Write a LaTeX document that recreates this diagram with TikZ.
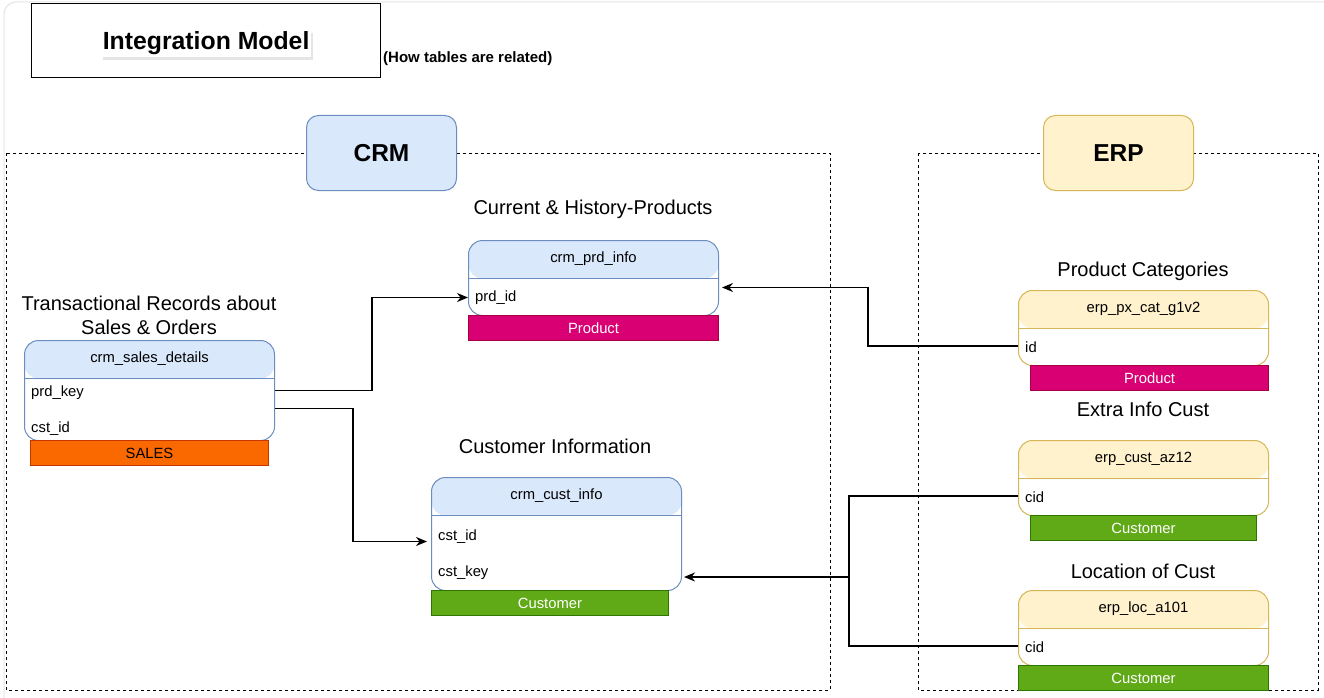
\documentclass[tikz,border=0pt]{standalone}
\usepackage{fontspec}
\setmainfont{Liberation Sans}
\usepackage{tikz}
\usetikzlibrary{calc, positioning, arrows.meta, shadows}
\definecolor{crmFill}{HTML}{DAE8FC}
\definecolor{crmEdge}{HTML}{6C8EBF}
\definecolor{erpFill}{HTML}{FFF2CC}
\definecolor{erpEdge}{HTML}{D6B656}
\definecolor{prodFill}{HTML}{D80073}
\definecolor{prodEdge}{HTML}{A50040}
\definecolor{salesFill}{HTML}{FA6800}
\definecolor{salesEdge}{HTML}{C73500}
\definecolor{custFill}{HTML}{60A917}
\definecolor{custEdge}{HTML}{2D7600}
\tikzset{
    crmTable/.style={
        rectangle, draw=crmEdge, line width=1pt, fill=white, rounded corners=14pt,
        minimum width=250pt, anchor=north west, inner sep=0pt,
        path picture={
            \fill[crmFill] (path picture bounding box.north west) rectangle ([yshift=-38pt]path picture bounding box.north east);
            \draw[crmEdge, line width=1pt] ([yshift=-38pt]path picture bounding box.north west) -- ([yshift=-38pt]path picture bounding box.north east);
        }
    },
    erpTable/.style={
        rectangle, draw=erpEdge, line width=1pt, fill=white, rounded corners=14pt,
        minimum width=250pt, anchor=north west, inner sep=0pt,
        path picture={
            \fill[erpFill] (path picture bounding box.north west) rectangle ([yshift=-38pt]path picture bounding box.north east);
            \draw[erpEdge, line width=1pt] ([yshift=-38pt]path picture bounding box.north west) -- ([yshift=-38pt]path picture bounding box.north east);
        }
    },
    tableName/.style={font=\fontsize{14.8}{17}\selectfont, inner sep=0pt},
    field/.style={font=\fontsize{14.8}{17}\selectfont, anchor=west, inner sep=0pt, yshift=-1.5pt},
    tag/.style={rectangle, line width=1pt, minimum height=25pt, anchor=north west, inner sep=0pt, font=\fontsize{14.8}{17}\selectfont},
    productTag/.style={tag, draw=prodEdge, fill=prodFill, text=white},
    salesTag/.style={tag, draw=salesEdge, fill=salesFill, text=black},
    customerTag/.style={tag, draw=custEdge, fill=custFill, text=white},
    caption/.style={font=\fontsize{20}{24}\selectfont, align=center, inner sep=0pt},
    area/.style={draw=black, line width=1pt, dash pattern=on 3pt off 3pt},
    system/.style={rectangle, rounded corners=12pt, line width=1pt, minimum width=150pt, minimum height=75pt, anchor=north west, font=\fontsize{24.5}{29}\selectfont\bfseries},
    link/.style={draw=black, line width=1.2pt},
    arrow/.style={link, -{Stealth[length=11pt, width=9pt, inset=3.5pt]}}
}

\begin{document}
\begin{tikzpicture}[x=1pt, y=-1pt]
        \useasboundingbox (0,0) rectangle (1324,698);
        \fill[white] (0,0) rectangle (1324,698);
        \draw[black!10, line width=1pt, rounded corners=12pt] (4,2) rectangle (1360,740);

        % Title
        \node[draw, line width=1.2pt, minimum width=349pt, minimum height=74pt, anchor=north west] (TitleBox) at (31,3) {};
        \node[fill=white, inner sep=1.5pt, drop shadow={opacity=0.2, shadow xshift=2pt, shadow yshift=-3pt}, font=\fontsize{24.8}{29}\selectfont\bfseries] (Title) at ([yshift=-3pt]TitleBox.center) {Integration Model};
        \node[anchor=west, inner sep=0pt, font=\fontsize{15}{18}\selectfont\bfseries] (Subtitle) at (383,59) {(How tables are related)};

        % Areas
        \draw[area] (6,153) rectangle (830,690);
        \draw[area] (918,153) rectangle (1318,690);
        \node[system, draw=crmEdge, fill=crmFill] (CRM) at (306,115) {CRM};
        \node[system, draw=erpEdge, fill=erpFill] (ERP) at (1043,115) {ERP};

        % CRM tables
        \node[caption] (PrdCaption) at (593,209) {Current \& History-Products};
        \node[crmTable, minimum height=75pt] (PrdInfo) at (468,240) {};
        \node[tableName] (PrdInfoName) at ([yshift=-19pt]PrdInfo.north) {crm\_prd\_info};
        \node[field] (PrdId) at (475,296) {prd\_id};
        \node[productTag, minimum width=250pt] (PrdTag) at (468,315) {Product};

        \node[caption] (SalesCaption) at (149,315) {Transactional Records about\\Sales \& Orders};
        \node[crmTable, minimum height=100pt] (SalesDetails) at (24,340) {};
        \node[tableName] (SalesDetailsName) at ([yshift=-19pt]SalesDetails.north) {crm\_sales\_details};
        \node[field] (PrdKey) at (31,391) {prd\_key};
        \node[field] (SalesCstId) at (31,427) {cst\_id};
        \node[salesTag, minimum width=238pt] (SalesTag) at (30,440) {SALES};

        \node[caption] (CustCaption) at (555,446) {Customer Information};
        \node[crmTable, minimum height=113pt] (CustInfo) at (431,477) {};
        \node[tableName] (CustInfoName) at ([yshift=-19pt]CustInfo.north) {crm\_cust\_info};
        \node[field] (CstId) at (438,535) {cst\_id};
        \node[field] (CstKey) at (438,571) {cst\_key};
        \node[customerTag, minimum width=237pt] (CustTag) at (431,590) {Customer};

        % ERP tables
        \node[caption] (PxCaption) at (1143,271) {Product Categories};
        \node[erpTable, minimum height=75pt] (PxCat) at (1018,290) {};
        \node[tableName] (PxCatName) at ([yshift=-19pt]PxCat.north) {erp\_px\_cat\_g1v2};
        \node[field] (PxId) at (1025,346) {id};
        \node[productTag, minimum width=238pt] (PxTag) at (1030,365) {Product};

        \node[caption] (AzCaption) at (1143,409) {Extra Info Cust};
        \node[erpTable, minimum height=75pt] (CustAz) at (1018,440) {};
        \node[tableName] (CustAzName) at ([yshift=-19pt]CustAz.north) {erp\_cust\_az12};
        \node[field] (AzCid) at (1025,496) {cid};
        \node[customerTag, minimum width=226pt] (AzTag) at (1030,515) {Customer};

        \node[caption] (LocCaption) at (1143,571) {Location of Cust};
        \node[erpTable, minimum height=75pt] (LocA) at (1018,590) {};
        \node[tableName] (LocAName) at ([yshift=-19pt]LocA.north) {erp\_loc\_a101};
        \node[field] (LocCid) at (1025,646) {cid};
        \node[customerTag, minimum width=250pt] (LocTag) at (1018,665) {Customer};

        % Relations
        \draw[arrow] (SalesDetails.east) -- ++(97,0) |- (PrdInfo.west |- PrdId);
        \draw[arrow] ([yshift=-18pt]SalesDetails.east) -- ++(78,0) |- ([xshift=-4pt, yshift=-7.5pt]CustInfo.west);
        \draw[arrow] ([yshift=1.5pt]PxId -| PxCat.west) -- ++(-150,0) |- ([xshift=3pt, yshift=-9.5pt]PrdInfo.east);
        \coordinate (Merge) at (849,577);
        \draw[link] ([yshift=1.5pt]AzCid -| CustAz.west) -| (Merge);
        \draw[link] ([yshift=1.5pt]LocCid -| LocA.west) -| (Merge);
        \draw[arrow] (Merge) -- ([xshift=2pt]CustInfo.east |- Merge);
\end{tikzpicture}
\end{document}
